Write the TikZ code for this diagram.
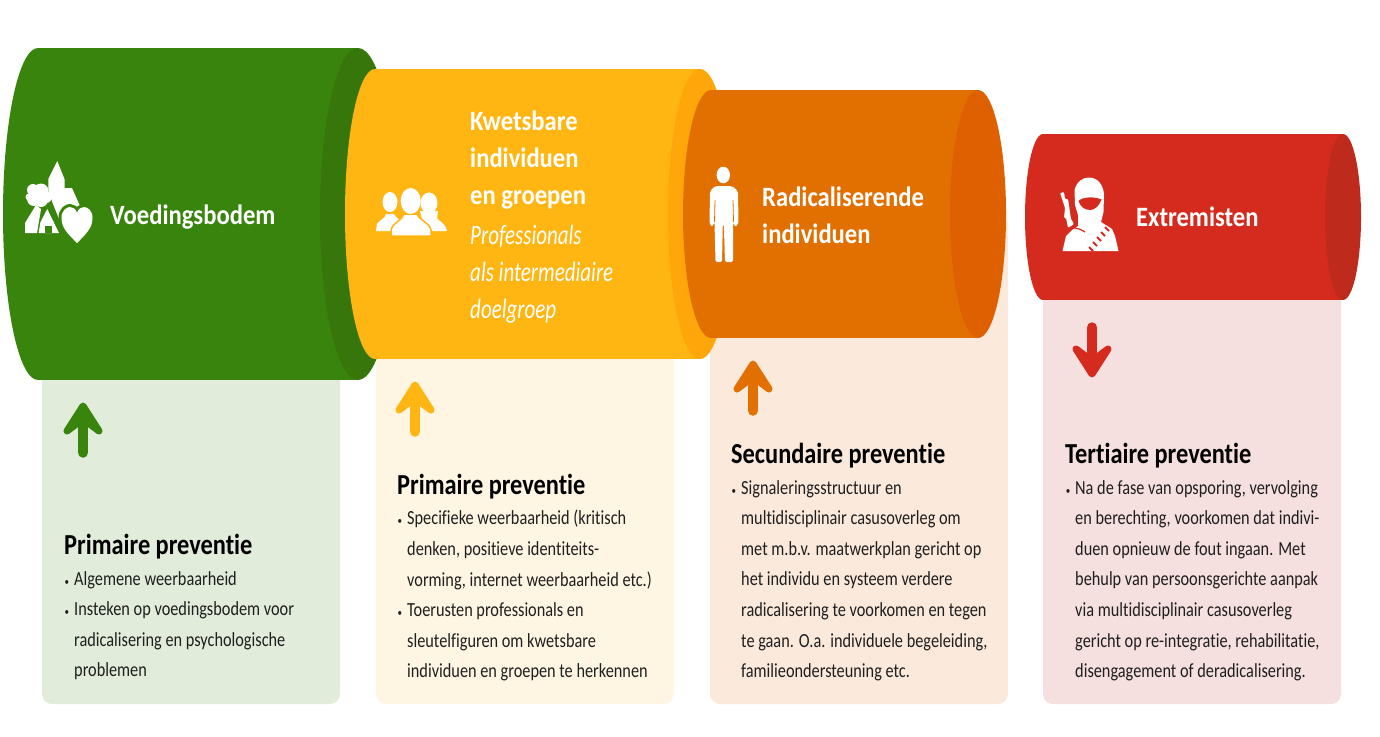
\documentclass[tikz,border=0pt]{standalone}
\usepackage{fontspec}
\setmainfont{Carlito}[Ligatures=NoCommon]
\newfontfamily\bodyfont{Carlito}[FakeStretch=0.815,Ligatures=NoCommon]
\newfontfamily\labelfont{Carlito}[FakeStretch=0.88,Ligatures=NoCommon,UprightFont=* Bold]
\newfontfamily\headfont{Carlito}[FakeStretch=0.84,Ligatures=NoCommon,UprightFont=* Bold]
\newfontfamily\subfont{Carlito}[FakeStretch=0.75,Ligatures=NoCommon,UprightFont=* Italic]
\definecolor{groen}{HTML}{39840C}
\definecolor{groendark}{HTML}{37760A}
\definecolor{groenpale}{HTML}{E1ECDB}
\definecolor{geel}{HTML}{FFB612}
\definecolor{geeldark}{HTML}{FFA60A}
\definecolor{geelpale}{HTML}{FFF5E3}
\definecolor{oranje}{HTML}{E17000}
\definecolor{oranjedark}{HTML}{DF6000}
\definecolor{oranjepale}{HTML}{FBE9DB}
\definecolor{rood}{HTML}{D52B1E}
\definecolor{rooddark}{HTML}{BE2A1C}
\definecolor{roodpale}{HTML}{F6DFDF}
\tikzset{
  label/.style={anchor=north west,inner sep=0pt,text=white,align=left,font=\labelfont\fontsize{28}{37}\selectfont},
  sublabel/.style={anchor=north west,inner sep=0pt,text=white,align=left,font=\subfont\fontsize{28}{37}\selectfont},
  heading/.style={anchor=west,inner sep=0pt,font=\headfont\fontsize{29}{30}\selectfont},
  bodytext/.style={anchor=north west,inner sep=0pt,align=left,text=black!88,font=\bodyfont\fontsize{20}{30.6}\selectfont},
  panel/.style={rounded corners=10pt}
}
% bullet hanging left of the text
\newcommand{\itm}{\llap{{\fontsize{11}{11}\selectfont •}\hspace{5pt}}}
% colour, cap colour, left extreme, left centre, right centre, right radius, top, bottom
\newcommand{\cylinder}[8]{
  \pgfmathsetmacro{\cmid}{(#7+#8)/2}
  \pgfmathsetmacro{\crad}{(#8-#7)/2}
  \pgfmathsetmacro{\crl}{#4-#3}
  \fill[#1] (#4,\cmid) ellipse [x radius=\crl,y radius=\crad];
  \fill[#1] (#4,#7) rectangle (#5,#8);
  \fill[#2] (#5,\cmid) ellipse [x radius=#6,y radius=\crad];
}
% colour, x of tip, y of tip, 1 for up or -1 for down
\newcommand{\pijl}[4]{
  \begin{scope}[shift={(#2,#3)},yscale=#4]
    \filldraw[#1,line width=7pt,line join=round] (0,4) -- (16,29) -- (4,20) -- (-4,20) -- (-16,29) -- cycle;
    \draw[#1,line width=10.5pt,line cap=round] (0,15) -- (0,50.5);
  \end{scope}
}
\begin{document}
\begin{tikzpicture}[x=1pt,y=-1pt]
  \useasboundingbox (0,0) rectangle (1380,736);
  % panels
  \fill[groenpale,panel] (42,214) rectangle (340,704);
  \fill[geelpale,panel] (376,214) rectangle (674,704);
  \fill[oranjepale,panel] (710,214) rectangle (1008,704);
  \fill[roodpale,panel] (1043,214) rectangle (1341,704);
  % cylinders
  \cylinder{groen}{groendark}{3}{38}{358}{38}{48}{380}
  \cylinder{geel}{geeldark}{345}{375}{700}{32}{69}{359}
  \cylinder{oranje}{oranjedark}{683}{711}{978}{28}{90}{338}
  \cylinder{rood}{rooddark}{1025}{1043}{1343}{18}{134}{300}
  % arrows
  \pijl{groen}{83}{402}{1}
  \pijl{geel}{415}{381}{1}
  \pijl{oranje}{753}{360}{1}
  \pijl{rood}{1092}{378}{-1}
  % village
  \fill[white] (57.3,161) -- (64.5,179) -- (64.5,188) -- (72,188) -- (80,206) -- (62,226) -- (53,204) -- (48.3,190) -- (48.3,179) -- cycle;
  \fill[white] (33,190) circle (6) (41,191) circle (7.5) (29,197) circle (3.5) (34,199) circle (7) (46,197) circle (6) (41,200) circle (7);
  \fill[white] (25,233) -- (25,223) -- (36,205) -- (41,209) -- (37,233) -- cycle;
  \fill[white] (47.3,209) -- (59,233) -- (38.5,233) -- (40.5,222) -- cycle;
  \fill[groen] (44.5,225.5) rectangle (52,232.5);
  \def\heartpath{(77,243) .. controls (68,234) and (61.5,228) .. (61.5,218) .. controls (61.5,210) and (67,207) .. (70,207) .. controls (73,207) and (76,209) .. (77,213) .. controls (78,209) and (81,207) .. (84,207) .. controls (87,207) and (92.5,210) .. (92.5,218) .. controls (92.5,228) and (86,234) .. (77,243) -- cycle}
  \draw[groen,line width=6pt] \heartpath;
  \fill[white] \heartpath;
  % people
  \fill[white] (390,202) ellipse [x radius=7.5,y radius=10];
  \fill[white] (376,231) -- (377,224) .. controls (379,220) and (385,219) .. (386,214) -- (394,214) .. controls (396,218) and (400,220) .. (404,224) -- (404,231) -- cycle;
  \fill[white] (429,203) ellipse [x radius=8.5,y radius=10.5];
  \fill[white] (420,211) -- (438,211) -- (437,218) .. controls (439,222) and (445,222) .. (447,231) -- (418,231) -- (418,222) .. controls (422,220) and (423,218) .. (421,216) -- cycle;
  \fill[white,draw=geel,line width=1.5pt] (391,236) -- (391,230) .. controls (393,222) and (402,221) .. (404,214) -- (417,214) .. controls (420,221) and (429,222) .. (431,230) -- (431,236) -- cycle;
  \fill[white] (410.7,201) ellipse [x radius=10,y radius=13];
  % person
  \fill[white] (723.3,175) ellipse [x radius=6.7,y radius=8.3];
  \fill[white,rounded corners=2pt] (715,186) -- (732,186) -- (738,191) -- (738.5,224) -- (735,227) -- (733,222) -- (733,262) -- (725,262) -- (723.8,224) -- (722.8,224) -- (722,262) -- (715.5,262) -- (714.5,222) -- (712,227) -- (709.5,224) -- (710,191) -- cycle;
  \draw[oranje,line width=0.8pt] (715,200) -- (714.5,222) (733,200) -- (733.5,222);
  % extremist
  \fill[white] (1062.5,251) -- (1066,236) -- (1072,230) -- (1078,226) -- (1078,215) -- (1075,205) -- (1074.5,190) .. controls (1077,181) and (1083,177.5) .. (1089,177.5) .. controls (1097,177.5) and (1103,184) .. (1104,194) -- (1103.5,212) -- (1101,222) -- (1112,229) -- (1115,236) -- (1118.5,251) -- cycle;
  \fill[rood] (1078.5,201) .. controls (1083,196.5) and (1095,196.5) .. (1101.5,199.5) .. controls (1099,206) and (1095,210) .. (1090,210) .. controls (1084,210) and (1080,206) .. (1078.5,201) -- cycle;
  \draw[rood,line width=1.2pt] (1066,230) .. controls (1072,226) and (1079,228) .. (1085,232);
  \draw[rood,line width=2pt] (1105,227) -- (1109,231) (1101,232) -- (1105,236) (1097,237) -- (1101,241) (1093,242) -- (1097,246) (1089,247) -- (1093,251);
  \fill[white,rounded corners=1pt] (1060,193) -- (1064,192) -- (1065,199) -- (1068,199) -- (1071,219) -- (1074,224) -- (1068,228) -- (1066,218) -- (1064,218) -- (1065,208) -- cycle;
  % cylinder texts
  \node[label,anchor=west] (voeding) at (110,217) {Voedingsbodem};
  \node[label] (kwetsbaar) at (470,110.5) {Kwetsbare\\individuen\\en groepen};
  \node[sublabel] (professionals) at (470,225) {Professionals\\als intermediaire\\doelgroep};
  \node[label] (radicaal) at (762,187) {Radicaliserende\\individuen};
  \node[label,anchor=west] (extremist) at (1136,216.5) {Extremisten};
  % panel texts
  \node[heading] (primA) at (64,547) {Primaire preventie};
  \node[heading] (primB) at (397,487) {Primaire preventie};
  \node[heading] (secu) at (731,456) {Secundaire preventie};
  \node[heading] (tert) at (1065,456) {Tertiaire preventie};
  \node[bodytext] (primAtext) at (74,571) {\itm Algemene weerbaarheid\\\itm Insteken op voedingsbodem voor\\radicalisering en psychologische\\problemen};
  \node[bodytext] (primBtext) at (407,510) {\itm Specifieke weerbaarheid (kritisch\\denken, positieve identiteits-\\vorming, internet weerbaarheid etc.)\\\itm Toerusten professionals en\\sleutelfiguren om kwetsbare\\individuen en groepen te herkennen};
  \node[bodytext] (secutext) at (741,480) {\itm Signaleringsstructuur en\\multidisciplinair casusoverleg om\\met m.b.v. maatwerkplan gericht op\\het individu en systeem verdere\\radicalisering te voorkomen en tegen\\te gaan. O.a. individuele begeleiding,\\familieondersteuning etc.};
  \node[bodytext] (terttext) at (1075,480) {\itm Na de fase van opsporing, vervolging\\en berechting, voorkomen dat indivi-\\duen opnieuw de fout ingaan. Met\\behulp van persoonsgerichte aanpak\\via multidisciplinair casusoverleg\\gericht op re-integratie, rehabilitatie,\\disengagement of deradicalisering.};
\end{tikzpicture}
\end{document}
